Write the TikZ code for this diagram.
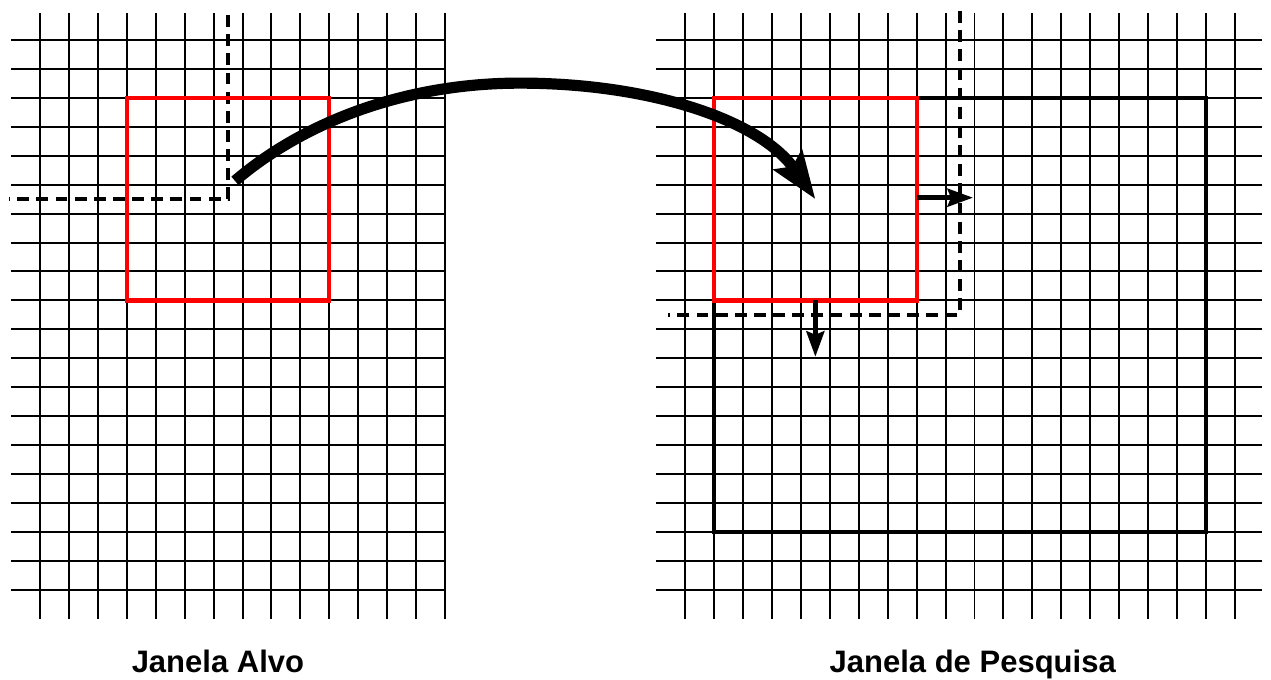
\documentclass[tikz,border=0pt]{standalone}
\usepackage{fontspec}
\setmainfont{Liberation Sans}
\usepackage{tikz}
\usetikzlibrary{arrows.meta}
\definecolor{janred}{HTML}{FF0000}
\tikzset{
  % Pixel grid
  gridline/.style={black,line width=1.15pt},
  % Windows
  janela/.style={draw=janred,line width=2.5pt},
  regiao/.style={draw=black,line width=2.7pt},
  % Dashed guides
  guia/.style={black,line width=2.1pt,dash pattern=on 7pt off 4.3pt},
  % Arrows
  salto/.style={-{Stealth[length=28pt,width=20pt,inset=4.5pt]},line width=6.6pt},
  passo/.style={-{Stealth[length=15pt,width=10.5pt,inset=2pt]},line width=2.9pt},
  rotulo/.style={font=\fontsize{18.3}{21}\selectfont\bfseries,anchor=base,inner sep=0pt}
}

\begin{document}
\begin{tikzpicture}[x=0.6cm,y=-0.6cm]
  \useasboundingbox (-1.383,-1.383) rectangle (42.55,22.12);

  % Janela Alvo
  \foreach \i in {0,...,14} \draw[gridline] (\i,-0.93) -- (\i,20);
  \foreach \j in {0,...,19} \draw[gridline] (-1,\j) -- (14,\j);
  \draw[guia] (6.5,-0.86) -- (6.5,5.5) -- (-1.07,5.5);
  \draw[janela] (3,2) rectangle (10,9);
  \coordinate (alvo) at (6.74,4.87);

  % Janela de Pesquisa
  \begin{scope}[shift={(22.3,0)}]
    \foreach \i in {0,...,19} \draw[gridline] (\i,-0.93) -- (\i,20);
    \foreach \j in {0,...,19} \draw[gridline] (-1,\j) -- (19.95,\j);
    \draw[guia] (9.5,-1) -- (9.5,9.5) -- (-0.6,9.5);
    \draw[regiao] (1,2) rectangle (18,17);
    \draw[janela] (1,2) rectangle (8,9);
    \coordinate (pesq) at (4.5,5.5);
    \coordinate (dirA) at (8,5.45);
    \coordinate (dirB) at (9.95,5.45);
    \coordinate (baixoA) at (4.5,9);
    \coordinate (baixoB) at (4.5,10.95);
  \end{scope}

  % Deslocamentos
  \draw[passo] (dirA) -- (dirB);
  \draw[passo] (baixoA) -- (baixoB);

  % Salto da janela alvo
  \coordinate (topo) at (16.59,1.49);
  \draw[salto] (alvo) .. controls (8.99,2.94) and (12.44,1.49) .. (topo)
               .. controls (21.09,1.49) and (24.89,2.77) .. (pesq);

  \node[rotulo] (lblAlvo) at (6.15,21.85) {Janela Alvo};
  \node[rotulo] (lblPesq) at (32.24,21.85) {Janela de Pesquisa};
\end{tikzpicture}
\end{document}
